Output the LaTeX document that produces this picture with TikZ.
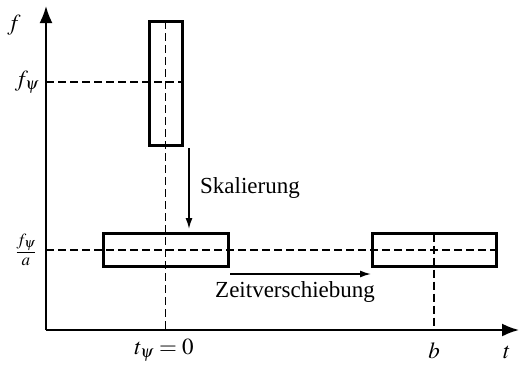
\documentclass[tikz,border=0pt]{standalone}
\usepackage{mathptmx}
\usepackage{fontspec}
\setmainfont{Liberation Serif}
\usetikzlibrary{arrows.meta}
\begin{document}
\begin{tikzpicture}[x=1pt,y=-1pt,
  font=\fontsize{23}{27}\selectfont,
  rbox/.style={draw, line width=3pt, inner sep=0pt, outer sep=0pt},
  axisline/.style={line width=2pt, -{Latex[length=17pt,width=13pt]}},
  guide/.style={line width=1.5pt, dash pattern=on 8pt off 4pt},
  shiftarrow/.style={line width=1.5pt, -{Latex[length=11pt,width=7pt]}},
  lbl/.style={inner sep=0pt}]
\useasboundingbox (0,0) rectangle (519,364);
% boxes
\node[rbox, minimum width=33pt, minimum height=124pt] (top) at (165.5,83) {};
\node[rbox, minimum width=125pt, minimum height=33pt] (left) at (165.5,250) {};
\node[rbox, minimum width=124pt, minimum height=33pt] (right) at (434,250) {};
% axes
\coordinate (O) at (46,330);
\coordinate (ytip) at (46,6);
\coordinate (xtip) at (519,330);
\coordinate (fp) at (46,82);
\coordinate (fpa) at (46,250);
% guides
\draw[guide] (top.north) -- (top.north |- O);
\draw[guide] (fp) -- (top.east |- fp);
\draw[guide] (fpa) -- (right.east |- fpa);
\draw[guide] (right.north) -- (right.north |- O);
\draw[axisline] (O) -- (ytip);
\draw[axisline] (O) -- (xtip);
% shift arrows
\coordinate (s1) at (189,148);
\coordinate (s2) at (189,229);
\coordinate (z1) at (230,274);
\coordinate (z2) at (371,274);
\draw[shiftarrow] (s1) -- (s2);
\draw[shiftarrow] (z1) -- (z2);
% labels
\node[lbl, anchor=base west] (sk) at (200,193) {Skalierung};
\node[lbl, anchor=base west] (zv) at (215,297) {Zeitverschiebung};
\node[lbl] (lf) at (14,25) {$f$};
\node[lbl] (lfp) at (27,82) {$f_\psi$};
\node[lbl] (lfpa) at (26,250) {$\frac{f_\psi}{a}$};
\node[lbl] (lt0) at (164,350) {$t_\psi = 0$};
\node[lbl] (lb) at (434,351) {$b$};
\node[lbl] (lt) at (507,352) {$t$};
\end{tikzpicture}
\end{document}
